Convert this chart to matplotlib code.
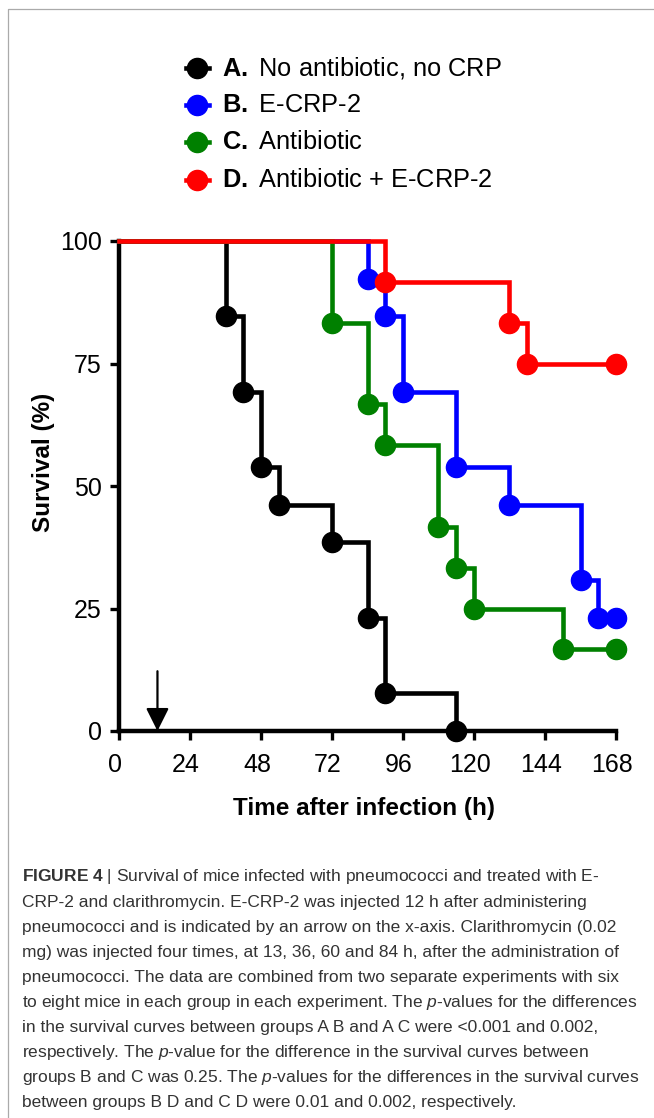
import matplotlib
matplotlib.use("Agg")
import matplotlib.pyplot as plt
from matplotlib.lines import Line2D
from matplotlib.transforms import ScaledTranslation

plt.rcParams['font.family'] = ['Liberation Sans', 'DejaVu Sans']
plt.rcParams['mathtext.fontset'] = 'custom'
plt.rcParams['mathtext.rm'] = 'Liberation Sans'
plt.rcParams['mathtext.it'] = 'Liberation Sans:italic'
plt.rcParams['mathtext.bf'] = 'Liberation Sans:bold'

# survival data (time of each death in hours, survival % after it)
a_times = [36, 42, 48, 54, 72, 84, 90, 114]
a_surv = [84.6, 69.2, 53.8, 46.2, 38.5, 23.1, 7.7, 0.0]
b_times = [84, 90, 96, 114, 132, 156, 162]
b_surv = [92.3, 84.6, 69.2, 53.8, 46.2, 30.8, 23.1]
c_times = [72, 84, 90, 108, 114, 120, 150]
c_surv = [83.3, 66.7, 58.3, 41.7, 33.3, 25.0, 16.7]
d_times = [90, 132, 138]
d_surv = [91.7, 83.3, 75.0]
end_time = 168

labels = ["A.", "B.", "C.", "D."]
names = ["No antibiotic, no CRP", "E-CRP-2", "Antibiotic", "Antibiotic + E-CRP-2"]
colors = ["#000000", "#0000ff", "#008000", "#ff0000"]

x_ticks = [0, 24, 48, 72, 96, 120, 144, 168]
y_ticks = [0, 25, 50, 75, 100]
arrow_time = 13

caption = [
    r"$\mathbf{FIGURE\ 4}$ | Survival of mice infected with pneumococci and treated with E-",
    "CRP-2 and clarithromycin. E-CRP-2 was injected 12 h after administering",
    "pneumococci and is indicated by an arrow on the x-axis. Clarithromycin (0.02",
    "mg) was injected four times, at 13, 36, 60 and 84 h, after the administration of",
    "pneumococci. The data are combined from two separate experiments with six",
    r"to eight mice in each group in each experiment. The $\mathit{p}$-values for the differences",
    "in the survival curves between groups A B and A C were <0.001 and 0.002,",
    r"respectively. The $\mathit{p}$-value for the difference in the survival curves between",
    r"groups B and C was 0.25. The $\mathit{p}$-values for the differences in the survival curves",
    "between groups B D and C D were 0.01 and 0.002, respectively.",
]

W, H = 654, 1118
fig = plt.figure(figsize=(W / 100, H / 100), dpi=100)
ax = fig.add_axes([119 / W, 1 - 731 / H, 497 / W, 490 / H])

groups = [(a_times, a_surv, False), (b_times, b_surv, True),
          (c_times, c_surv, True), (d_times, d_surv, True)]
for (t, s, censored), col in zip(groups, colors):
    xs = [0] + t
    ys = [100] + s
    if censored:
        xs = xs + [end_time]
        ys = ys + [s[-1]]
    ax.step(xs, ys, where='post', color=col, lw=3.3, clip_on=False,
            solid_joinstyle='miter', zorder=3)
    mx = list(t) + ([end_time] if censored else [])
    my = list(s) + ([s[-1]] if censored else [])
    ax.plot(mx, my, 'o', color=col, ms=14.5, clip_on=False, zorder=4)

ax.set_xlim(0, 168)
ax.set_ylim(0, 100)
ax.set_xticks(x_ticks)
ax.set_yticks(y_ticks)
for sp in ['top', 'right']:
    ax.spines[sp].set_visible(False)
for sp in ['left', 'bottom']:
    ax.spines[sp].set_linewidth(3.2)
ax.tick_params(axis='both', length=6.5, width=2.4, labelsize=18, direction='out')
ax.tick_params(axis='x', pad=9)
ax.tick_params(axis='y', pad=6)
# x tick labels sit a little left of their ticks in the original
shift = ScaledTranslation(-4 / 100, 0, fig.dpi_scale_trans)
for lbl in ax.get_xticklabels():
    lbl.set_transform(lbl.get_transform() + shift)

ax.set_xlabel("Time after infection (h)", fontsize=17.5, fontweight='bold')
ax.set_ylabel("Survival (%)", fontsize=17.5, fontweight='bold')
ax.xaxis.set_label_coords(0.493, -0.135)
ax.yaxis.set_label_coords(-0.128, 0.548)

# arrow marking the E-CRP-2 injection
ax.annotate("", xy=(arrow_time, 0), xytext=(arrow_time, 12.2),
            arrowprops=dict(arrowstyle='-|>,head_width=0.35,head_length=0.7',
                            color='black', lw=1.6, shrinkA=0, shrinkB=0,
                            mutation_scale=20),
            zorder=5)

# legend drawn by hand
leg_y = [68, 105, 142, 180]
for lab, name, col, y in zip(labels, names, colors, leg_y):
    yf = 1 - y / H
    fig.add_artist(Line2D([186 / W, 197 / W, 209 / W], [yf, yf, yf], color=col,
                          lw=3.3, marker='o', ms=14.5, markevery=[1]))
    fig.text(222 / W, yf, r"$\mathbf{" + lab + "}$ " + name, fontsize=18.3,
             va='center', ha='left')

# caption
for i, line in enumerate(caption):
    fig.text(22 / W, 1 - (877 + i * 25.1) / H, line, fontsize=12.5,
             color='#333333', va='center', ha='left')

# page border
fig.add_artist(Line2D([8 / W, 8 / W, 1], [0, 1 - 9 / H, 1 - 9 / H],
                      color='#aaaaaa', lw=0.9))

fig.savefig("out.png", dpi=100)
